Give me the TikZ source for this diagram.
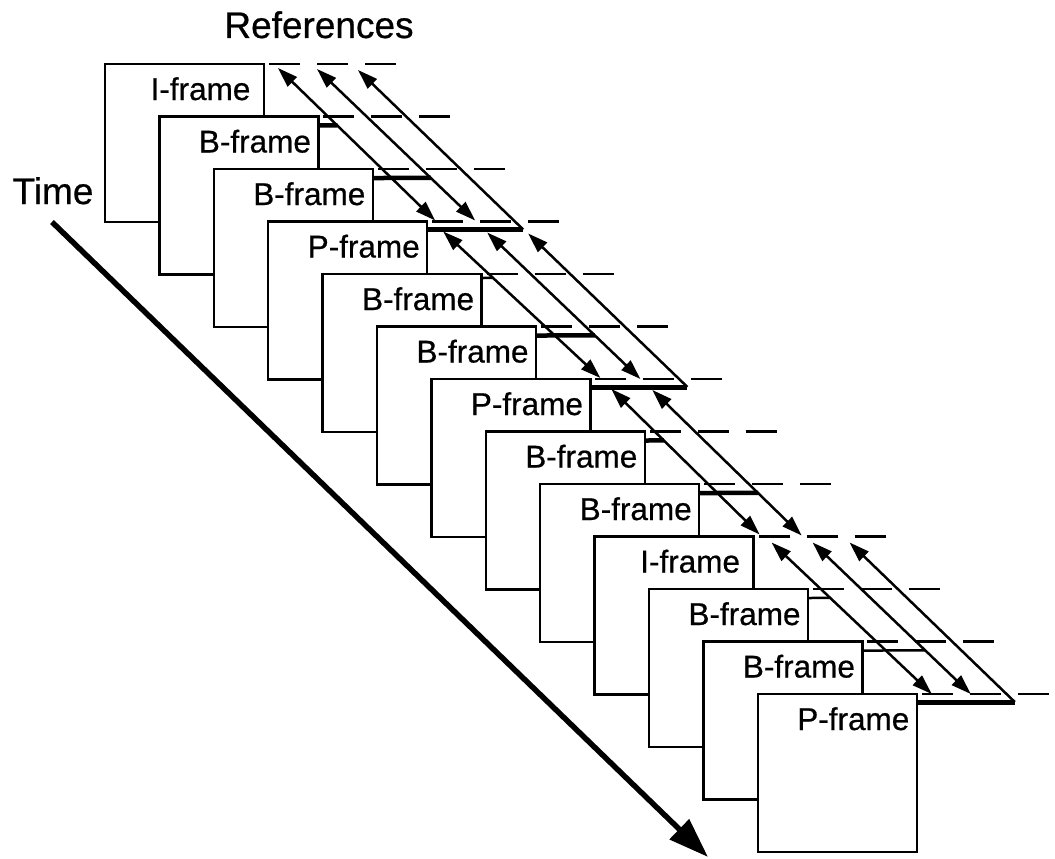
\documentclass[tikz,border=0pt]{standalone}
\usepackage{fontspec}
\setmainfont[FakeBold=0.6]{Liberation Sans}
\usetikzlibrary{arrows.meta,calc}
\begin{document}
\begin{tikzpicture}[x=1pt,y=-1pt,
  frame/.style={draw,line width=2.5pt,fill=white,minimum width=159pt,minimum height=158pt,anchor=north west,inner sep=0pt,outer sep=0pt},
  lbl/.style={anchor=base,inner sep=0pt,font=\fontsize{31.5}{36}\selectfont},
  big/.style={anchor=base,inner sep=0pt,font=\fontsize{37}{42}\selectfont},
  dashline/.style={line width=2.5pt,dash pattern=on 31pt off 17pt},
  ref/.style={line width=2.5pt,{Triangle[length=20pt,width=13pt]}-{Triangle[length=20pt,width=13pt]}},
  refup/.style={line width=2.5pt,{Triangle[length=20pt,width=13pt]}-},
  bar/.style={line width=4.5pt},
  pbar/.style={line width=5pt},
  thinbar/.style={line width=2.5pt},
  timearrow/.style={line width=5.5pt,-{Triangle[length=40pt,width=27pt]}}
]
\useasboundingbox (0,0) rectangle (1055,859);

% frames
\foreach \i/\t in {0/I,1/B,2/B,3/P,4/B,5/B,6/P,7/B,8/B,9/I,10/B,11/B,12/P}{
  \node[frame] (f\i) at (105+54.4*\i, 64+52.5*\i) {};
  \node[lbl] (t\i) at ($(f\i.north west)+(95.5,36)$) {\t-frame};
  \draw[dashline] ($(f\i.north east)+(5,0)$) -- ++(128,0);
}

% titles
\node[big] (refs) at (319,38) {References};
\node[big] (time) at (53,204) {Time};

% time arrow
\coordinate (ts) at (52,222);
\coordinate (te) at (708,857);
\draw[timearrow] (ts) -- (te);

% group 0: I0 -> P3
\coordinate (u0a) at ($(f0.north east)+(14,4)$);
\coordinate (u0b) at ($(f0.north east)+(53,5)$);
\coordinate (u0c) at ($(f0.north east)+(94,6)$);
\coordinate (d0a) at ($(f3.north east)+(8,-1)$);
\coordinate (d0b) at ($(f3.north east)+(48,-1)$);
\coordinate (s3) at ($(f3.north east)+(0,8)$);
\coordinate (e3) at ($(f3.north east)+(96,8)$);

% group 1: P3 -> P6
\coordinate (u1a) at ($(f3.north east)+(16,10)$);
\coordinate (u1b) at ($(f3.north east)+(60,11)$);
\coordinate (u1c) at ($(f3.north east)+(101,12)$);
\coordinate (d1a) at ($(f6.north east)+(10,-1)$);
\coordinate (d1b) at ($(f6.north east)+(50,0)$);
\coordinate (s6) at ($(f6.north east)+(0,8)$);
\coordinate (e6) at ($(f6.north east)+(97,8)$);

% group 2: P6 -> I9
\coordinate (u2a) at ($(f6.north east)+(21,10)$);
\coordinate (u2b) at ($(f6.north east)+(62,11)$);
\coordinate (d2a) at ($(f9.north east)+(6,-2)$);
\coordinate (d2b) at ($(f9.north east)+(48,-1)$);

% group 3: I9 -> P12
\coordinate (u3a) at ($(f9.north east)+(18,6)$);
\coordinate (u3b) at ($(f9.north east)+(59,6)$);
\coordinate (u3c) at ($(f9.north east)+(96,6)$);
\coordinate (d3a) at ($(f12.north east)+(15,0)$);
\coordinate (d3b) at ($(f12.north east)+(54,0)$);
\coordinate (s12) at ($(f12.north east)+(0,8)$);
\coordinate (e12) at ($(f12.north east)+(98,8)$);

% B-frame bar starts and helpers
\foreach \i/\o in {1/9,2/9,4/4,5/9,7/9,8/9,10/9,11/9}{
  \coordinate (b\i) at ($(f\i.north east)+(0,\o)$);
  \coordinate (h\i) at ($(b\i)+(300,0)$);
}

% bars of B-frames
\draw[bar] (b1) -- (intersection of b1--h1 and u0a--d0a);
\draw[bar] (b2) -- (intersection of b2--h2 and u0b--d0b);
\draw[thinbar] (b4) -- (intersection of b4--h4 and u1a--d1a);
\draw[bar] (b5) -- (intersection of b5--h5 and u1b--d1b);
\draw[bar] (b7) -- (intersection of b7--h7 and u2a--d2a);
\draw[bar] (b8) -- (intersection of b8--h8 and u2b--d2b);
\draw[thinbar] (b10) -- (intersection of b10--h10 and u3a--d3a);
\draw[thinbar] (b11) -- (intersection of b11--h11 and u3b--d3b);

% bars of P-frames
\draw[pbar] (s3) -- (e3);
\draw[pbar] (s6) -- (e6);
\draw[pbar] (s12) -- (e12);

% reference arrows
\draw[ref] (u0a) -- (d0a);
\draw[ref] (u0b) -- (d0b);
\draw[refup] (u0c) -- (e3);
\draw[ref] (u1a) -- (d1a);
\draw[ref] (u1b) -- (d1b);
\draw[refup] (u1c) -- (e6);
\draw[ref] (u2a) -- (d2a);
\draw[ref] (u2b) -- (d2b);
\draw[ref] (u3a) -- (d3a);
\draw[ref] (u3b) -- (d3b);
\draw[refup] (u3c) -- (e12);
\end{tikzpicture}
\end{document}
